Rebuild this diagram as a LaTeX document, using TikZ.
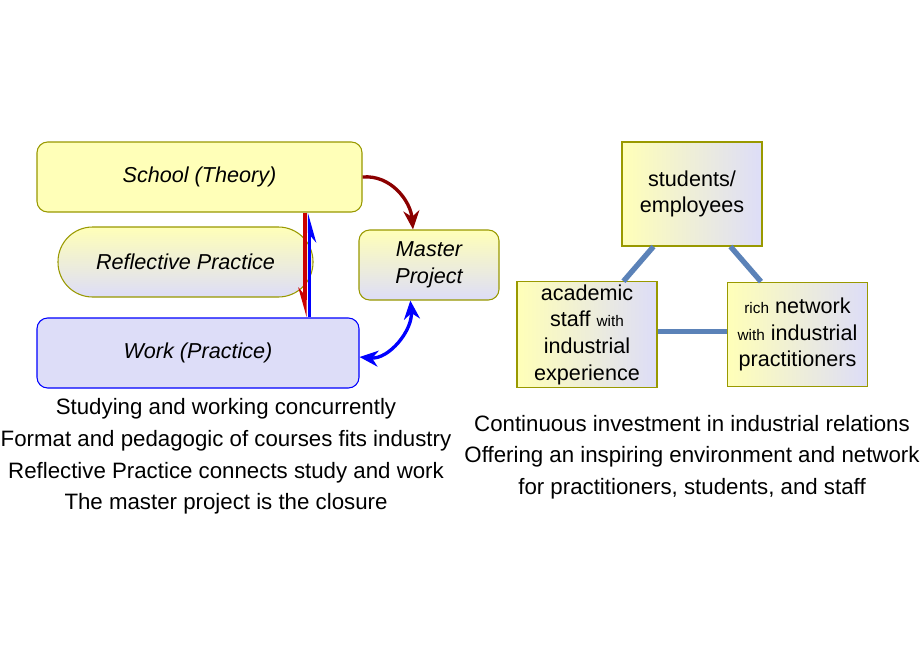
\documentclass[tikz,border=0pt]{standalone}
\usepackage{fontspec}
\setmainfont{Liberation Sans}
\usetikzlibrary{arrows.meta}
\definecolor{paleyellow}{HTML}{FFFFB8}
\definecolor{palelilac}{HTML}{DDDDF8}
\definecolor{olive}{HTML}{999900}
\definecolor{linkblue}{HTML}{5B82B8}
\definecolor{wine}{HTML}{8B0000}

\tikzset{
  box/.style={draw=olive,line width=0.8pt,minimum width=105pt,minimum height=52.5pt,
    align=center,font=\fontsize{16.2pt}{19pt}\selectfont\itshape,inner sep=2pt},
  vshade/.style={top color=paleyellow,bottom color=palelilac},
  hshade/.style={left color=paleyellow,right color=palelilac},
  pillar/.style={box,hshade,minimum height=78.5pt,font=\fontsize{16.2pt}{19pt}\selectfont,
    execute at begin node=\setlength{\baselineskip}{20pt}},
  link/.style={linkblue,line width=4pt},
  caption/.style={align=center,execute at begin node=\setlength{\baselineskip}{23.8pt}}
}
\newcommand{\smtxt}[1]{{\fontsize{11.5pt}{12pt}\selectfont #1}}

\begin{document}
\begin{tikzpicture}[x=0.75pt,y=-0.75pt,font=\fontsize{16.7pt}{19pt}\selectfont]
  \useasboundingbox[fill=white] (0,0) rectangle (920,660);
  % left: school and work
  \node[box,fill=paleyellow,rounded corners=8pt,minimum width=243.75pt] (school) at (199.5,177) {School (Theory)};
  \node[box,vshade,rounded corners=26pt,minimum width=191.25pt] (reflect) at (185.5,262) {Reflective Practice};
  \node[box,draw=blue,fill=palelilac,rounded corners=8pt,minimum width=241.5pt] (work) at (198,353) {Work (Practice)};
  \node[box,vshade,rounded corners=8pt,
    execute at begin node=\setlength{\baselineskip}{20pt}] (master) at (429,265) {Master\\Project};
  \coordinate (down) at (305,0);
  \coordinate (up) at (309.5,0);
  \draw[red!80!black,line width=2.5pt,-{Stealth[right,length=18pt,width=10pt]}]
    (school.south -| down) -- (work.north -| down);
  \draw[blue,line width=2.5pt,-{Stealth[right,length=18pt,width=10pt]}]
    (work.north -| up) -- (school.south -| up);
  \draw[wine,line width=2.5pt,-{Stealth[length=14pt,width=12pt]}]
    (school.east) to[out=5,in=95] ([xshift=-12pt]master.north);
  \draw[blue,line width=2.5pt,{Stealth[length=14pt,width=12pt]}-{Stealth[length=14pt,width=12pt]}]
    ([yshift=-3pt]work.east) to[out=-5,in=-85] ([xshift=-14pt]master.south);
  \node[caption] (leftnote) at (226,456.5) {Studying and working concurrently\\
    Format and pedagogic of courses fits industry\\
    Reflective Practice connects study and work\\
    The master project is the closure};
  % right: three pillars
  \node[pillar,minimum height=78pt] (students) at (692,194) {students/\\employees};
  \node[pillar] (academic) at (587,334.5) {academic\\staff \smtxt{with}\\industrial\\experience};
  \node[pillar] (network) at (797.5,334.5) {\smtxt{rich} network\\\smtxt{with} industrial\\practitioners};
  \draw[link] ([xshift=24pt]students.south west) -- ([xshift=80.25pt]academic.north west);
  \draw[link] ([xshift=81.75pt]students.south west) -- ([xshift=25.5pt]network.north west);
  \draw[link] ([yshift=2.5pt]academic.east) -- ([yshift=2.5pt]network.west);
  \node[caption] (rightnote) at (692,457) {Continuous investment in industrial relations\\
    Offering an inspiring environment and network\\
    for practitioners, students, and staff};
\end{tikzpicture}
\end{document}
